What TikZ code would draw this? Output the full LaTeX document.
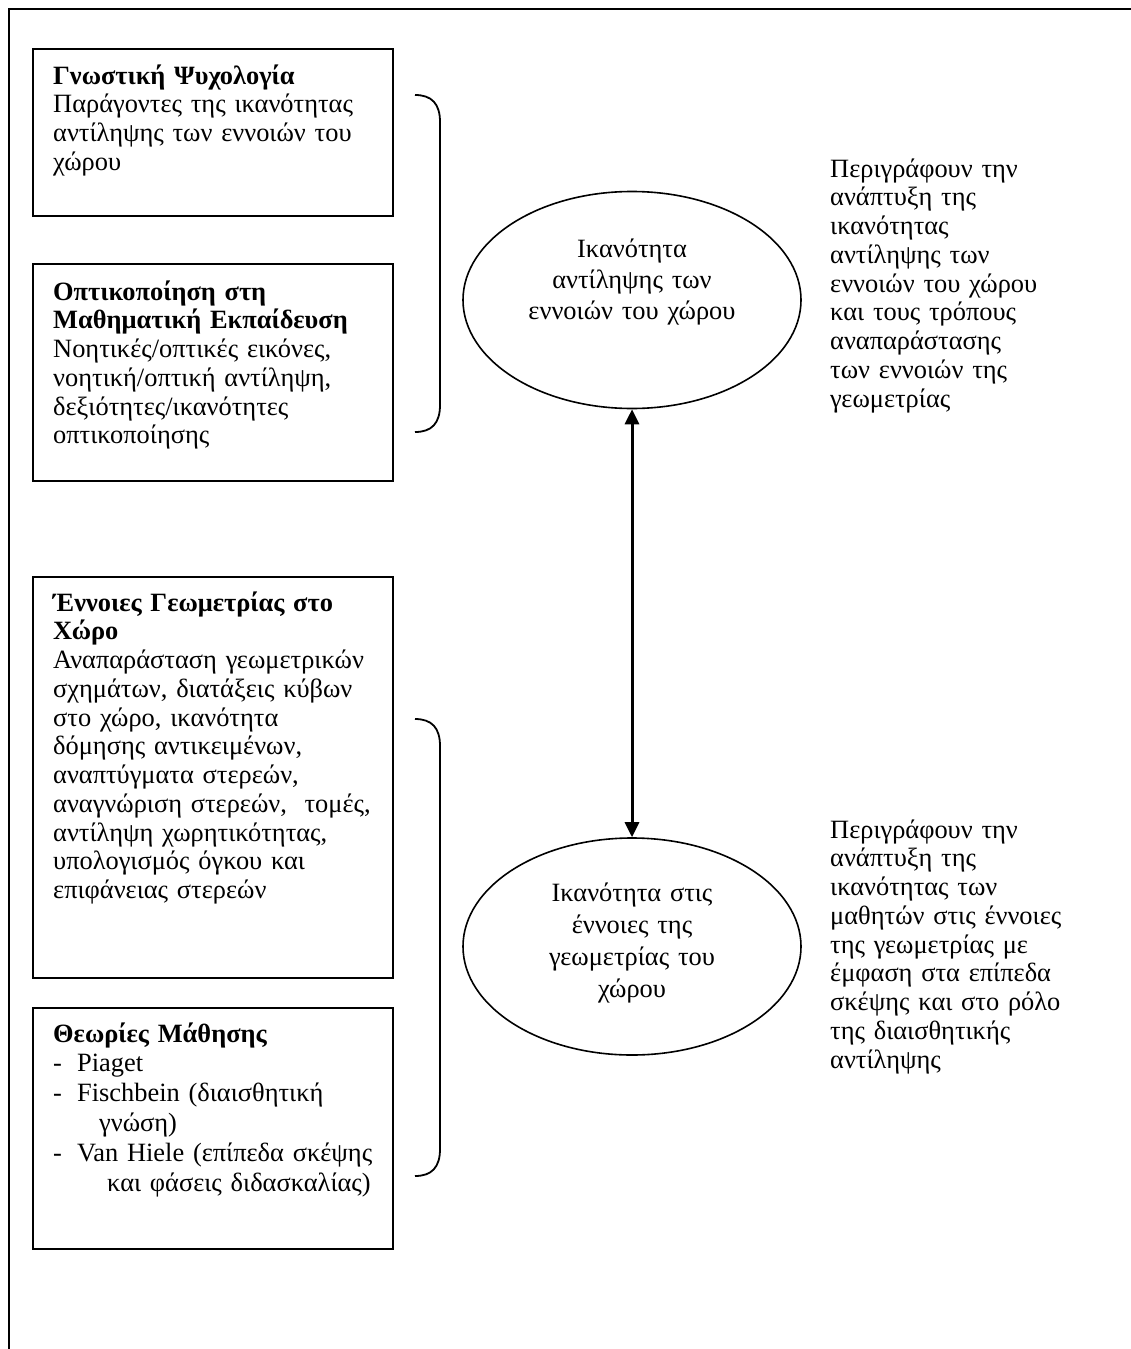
\documentclass[tikz,border=0pt]{standalone}
\usepackage{fontspec}
\setmainfont{Liberation Serif}
\usetikzlibrary{arrows.meta, shapes.geometric}

\tikzset{
  box/.style={draw, line width=2pt, anchor=north west, minimum width=360pt, inner sep=0pt},
  blob/.style={draw, ellipse, line width=1.6pt, minimum width=338pt, minimum height=217pt, inner sep=0pt},
  txt/.style={anchor=base west, align=left, text width=400pt, inner sep=0pt, font=\fontsize{26.4}{28.75}\selectfont},
  ctxt/.style={anchor=base, align=center, text width=320pt, inner sep=0pt, font=\fontsize{26.4}{31}\selectfont},
  brace/.style={line width=1.8pt},
  tip/.style={{Triangle[length=15pt,width=14pt]}-{Triangle[length=15pt,width=14pt]}, line width=3pt}
}

\begin{document}
\begin{tikzpicture}[x=1pt, y=-1pt]
\def\xBox{32}
\def\xTxt{53}
\def\xMid{632}
\def\xDesc{830}

\useasboundingbox (0,0) rectangle (1131,1349);

\coordinate (FrameBL) at (9,1349);
\coordinate (FrameTL) at (9,9);
\coordinate (FrameTR) at (1131,9);
\draw[line width=2pt] (FrameBL) -- (FrameTL) -- (FrameTR);

% left column
\node[box, minimum height=167pt] (psych) at (\xBox,48) {};
\node[box, minimum height=217pt] (visual) at (\xBox,263) {};
\node[box, minimum height=401pt] (geom) at (\xBox,576) {};
\node[box, minimum height=241pt] (learn) at (\xBox,1007) {};

\node[txt] (psychTxt) at (\xTxt,84) {\textbf{Γνωστική Ψυχολογία}\\
  Παράγοντες της ικανότητας\\
  αντίληψης των εννοιών του\\
  χώρου};
\node[txt] (visualTxt) at (\xTxt,300) {\textbf{Οπτικοποίηση στη}\\
  \textbf{Μαθηματική Εκπαίδευση}\\
  Νοητικές/οπτικές εικόνες,\\
  νοητική/οπτική αντίληψη,\\
  δεξιότητες/ικανότητες\\
  οπτικοποίησης};
\node[txt] (geomTxt) at (\xTxt,611) {\textbf{Έννοιες Γεωμετρίας στο}\\
  \textbf{Χώρο}\\
  Αναπαράσταση γεωμετρικών\\
  σχημάτων, διατάξεις κύβων\\
  στο χώρο, ικανότητα\\
  δόμησης αντικειμένων,\\
  αναπτύγματα στερεών,\\
  αναγνώριση στερεών,\ \ τομές,\\
  αντίληψη χωρητικότητας,\\
  υπολογισμός όγκου και\\
  επιφάνειας στερεών};
\node[txt, font=\fontsize{26.4}{29.8}\selectfont] (learnTxt) at (\xTxt,1042) {\textbf{Θεωρίες Μάθησης}\\
  \makebox[24pt][l]{-}Piaget\\
  \makebox[24pt][l]{-}Fischbein (διαισθητική\\
  \hspace*{46pt}γνώση)\\
  \makebox[24pt][l]{-}Van Hiele (επίπεδα σκέψης\\
  \hspace*{54pt}και φάσεις διδασκαλίας)};

% braces
\coordinate (BraceTopA) at (415,95);
\coordinate (BraceTopB) at (415,432);
\coordinate (BraceBotA) at (415,719);
\coordinate (BraceBotB) at (415,1176);
\draw[brace] (BraceTopA) .. controls (432,95) and (440,104) .. (440,122)
  -- (440,405) .. controls (440,423) and (432,432) .. (BraceTopB);
\draw[brace] (BraceBotA) .. controls (432,719) and (440,728) .. (440,746)
  -- (440,1149) .. controls (440,1167) and (432,1176) .. (BraceBotB);

% middle column
\node[blob] (spaceAbil) at (\xMid,300) {};
\node[blob] (geomAbil) at (\xMid,946.5) {};
\node[ctxt] (spaceAbilTxt) at (\xMid,257) {Ικανότητα\\ αντίληψης των\\ εννοιών του χώρου};
\node[ctxt, font=\fontsize{26.4}{32}\selectfont] (geomAbilTxt) at (\xMid,901) {Ικανότητα στις\\ έννοιες της\\ γεωμετρίας του\\ χώρου};
\draw[tip] (spaceAbil.south) -- (geomAbil.north);

% right column
\node[txt] (spaceDesc) at (\xDesc,177) {Περιγράφουν την\\
  ανάπτυξη της\\
  ικανότητας\\
  αντίληψης των\\
  εννοιών του χώρου\\
  και τους τρόπους\\
  αναπαράστασης\\
  των εννοιών της\\
  γεωμετρίας};
\node[txt] (geomDesc) at (\xDesc,838) {Περιγράφουν την\\
  ανάπτυξη της\\
  ικανότητας των\\
  μαθητών στις έννοιες\\
  της γεωμετρίας με\\
  έμφαση στα επίπεδα\\
  σκέψης και στο ρόλο\\
  της διαισθητικής\\
  αντίληψης};
\end{tikzpicture}
\end{document}
